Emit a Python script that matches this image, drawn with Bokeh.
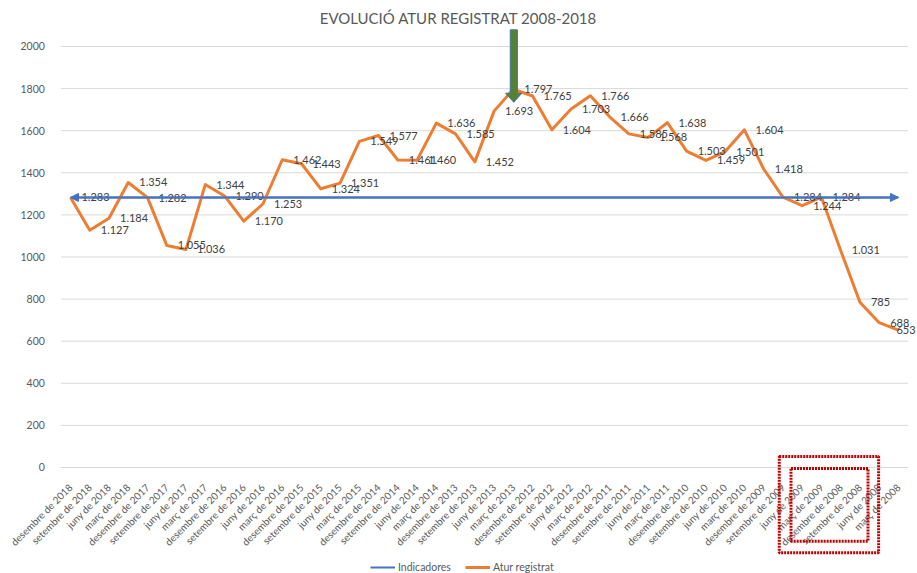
import math
from bokeh.plotting import figure
from bokeh.models import (ColumnDataSource, Range1d, FixedTicker, Legend, LegendItem,
                          Label, BoxAnnotation, Arrow, NormalHead)
from bokeh.core.properties import value
from bokeh.embed import file_html
from bokeh.resources import INLINE

# ---------------- data ----------------
categories = [
    "desembre de 2018", "setembre de 2018", "juny de 2018", "març de 2018",
    "desembre de 2017", "setembre de 2017", "juny de 2017", "març de 2017",
    "desembre de 2016", "setembre de 2016", "juny de 2016", "març de 2016",
    "desembre de 2015", "setembre de 2015", "juny de 2015", "març de 2015",
    "desembre de 2014", "setembre de 2014", "juny de 2014", "març de 2014",
    "desembre de 2013", "setembre de 2013", "juny de 2013", "març de 2013",
    "desembre de 2012", "setembre de 2012", "juny de 2012", "març de 2012",
    "desembre de 2011", "setembre de 2011", "juny de 2011", "març de 2011",
    "desembre de 2010", "setembre de 2010", "juny de 2010", "març de 2010",
    "desembre de 2009", "setembre de 2009", "juny de 2009", "març de 2009",
    "desembre de 2008", "setembre de 2008", "juny de 2008", "març de 2008",
]
atur_registrat = [1283, 1127, 1184, 1354, 1282, 1055, 1036, 1344, 1290, 1170, 1253,
                  1462, 1443, 1324, 1351, 1549, 1577, 1461, 1460, 1636, 1585, 1452,
                  1693, 1797, 1765, 1604, 1703, 1766, 1666, 1585, 1568, 1638, 1503,
                  1459, 1501, 1604, 1418, 1284, 1244, 1284, 1031, 785, 688, 653]
indicadores = [1283, 1283, 1283, 1283, 1283, 1283, 1283, 1283, 1283, 1283, 1283,
               1283, 1283, 1283, 1283, 1283, 1283, 1283, 1283, 1283, 1283, 1283,
               1283, 1283, 1283, 1283, 1283, 1283, 1283, 1283, 1283, 1283, 1283,
               1283, 1283, 1283, 1283, 1283, 1283, 1283, 1283, 1283, 1283, 1283]
y_ticks = [0, 200, 400, 600, 800, 1000, 1200, 1400, 1600, 1800, 2000]
title_text = "EVOLUCIÓ ATUR REGISTRAT 2008-2018"
series_names = ["Indicadores", "Atur registrat"]

# ---------------- styling ----------------
BLUE = "#4472C4"
ORANGE = "#ED7D31"
GREY_TXT = "#595959"
LBL_TXT = "#404040"
GRID = "#d9d9d9"
FONT = "Lato"

idx = list(range(len(categories)))
x_lo, x_hi = idx[0] - 0.5, idx[-1] + 0.5          # plot-area edges (category units)
labels = [f"{v:,}".replace(",", ".") for v in atur_registrat]
# data labels sit to the right of each point; the last one is pulled inside the chart
dx = [11] * (len(idx) - 1) + [-2]
source = ColumnDataSource(dict(x=idx, atur=atur_registrat, ind=indicadores,
                               lbl=labels, dx=dx))

p = figure(width=917, height=573,
           x_range=Range1d(-3.635, 43.99),
           y_range=Range1d(-503.6, 2218.5),
           output_backend="svg", toolbar_location=None,
           min_border_left=0, min_border_right=0, min_border_top=0,
           min_border_bottom=0)
p.outline_line_color = None
p.background_fill_color = "white"
p.xgrid.grid_line_color = None
p.ygrid.grid_line_color = None

# horizontal grid lines limited to the plot area
p.segment(x0=[x_lo] * len(y_ticks), x1=[x_hi] * len(y_ticks), y0=y_ticks, y1=y_ticks,
          line_color=GRID, line_width=1)

# y axis, drawn at the left edge of the plot area
p.yaxis.fixed_location = x_lo
p.yaxis.ticker = FixedTicker(ticks=y_ticks)
p.yaxis.axis_line_color = None
p.yaxis.major_tick_line_color = None
p.yaxis.minor_tick_line_color = None
p.yaxis.major_label_standoff = 10
p.yaxis.major_label_text_font = FONT
p.yaxis.major_label_text_font_size = "10.5px"
p.yaxis.major_label_text_color = GREY_TXT

# x axis at value 0
p.xaxis.fixed_location = 0
p.xaxis.bounds = (x_lo, x_hi)
p.xaxis.ticker = FixedTicker(ticks=idx)
p.xaxis.major_label_overrides = {i: c for i, c in zip(idx, categories)}
p.xaxis.major_label_orientation = math.pi / 4
p.xaxis.axis_line_color = None
p.xaxis.major_tick_line_color = None
p.xaxis.minor_tick_line_color = None
p.xaxis.major_label_standoff = 12
p.xaxis.major_label_text_font = FONT
p.xaxis.major_label_text_font_size = "10px"
p.xaxis.major_label_text_color = GREY_TXT

# series
r_ind = p.line("x", "ind", source=source, line_color=BLUE, line_width=2)
p.add_layout(Arrow(start=NormalHead(size=8, fill_color=BLUE, line_color=BLUE),
                   end=NormalHead(size=8, fill_color=BLUE, line_color=BLUE),
                   x_start=idx[0], y_start=indicadores[0],
                   x_end=idx[-1], y_end=indicadores[-1],
                   line_color=BLUE, line_width=2))
r_atur = p.line("x", "atur", source=source, line_color=ORANGE, line_width=3,
                line_join="round")

p.text("x", "atur", text="lbl", source=source, x_offset="dx",
       text_align="left", text_baseline="middle",
       text_font=value(FONT), text_font_size="11px", text_color=LBL_TXT)

# green arrow shape pointing at the peak
ac = 23.02
arrow_xs = [ac - 0.18, ac + 0.19, ac + 0.19, ac + 0.42, ac, ac - 0.42, ac - 0.18]
arrow_ys = [2079, 2079, 1778, 1778, 1735, 1778, 1778]
p.patch(arrow_xs, arrow_ys, fill_color="#548235", line_color="#41719C", line_width=1)

# red dotted boxes over the last axis labels
p.add_layout(BoxAnnotation(left=36.81, right=41.97, top=52, bottom=-405,
                           fill_color=None, fill_alpha=0, line_color="#C00000",
                           line_alpha=1, line_width=3, line_dash="2 1"))
p.add_layout(BoxAnnotation(left=37.42, right=41.42, top=-5, bottom=-350,
                           fill_color=None, fill_alpha=0, line_color="#C00000",
                           line_alpha=1, line_width=3, line_dash="2 1"))

# title
p.add_layout(Label(x=20.15, y=2133, text=title_text, text_align="center",
                   text_baseline="middle", text_font=FONT, text_font_size="15px",
                   text_color=GREY_TXT))

# legend
legend = Legend(items=[LegendItem(label=series_names[0], renderers=[r_ind]),
                       LegendItem(label=series_names[1], renderers=[r_atur])],
                orientation="horizontal", location=(370, 0),
                padding=0, margin=0, spacing=14, label_standoff=3,
                glyph_width=25, glyph_height=12, label_height=12,
                label_text_font=FONT, label_text_font_size="10.5px",
                label_text_color=GREY_TXT, border_line_color=None,
                background_fill_alpha=0)
p.add_layout(legend)

open("out.html", "w").write(file_html(p, INLINE))
